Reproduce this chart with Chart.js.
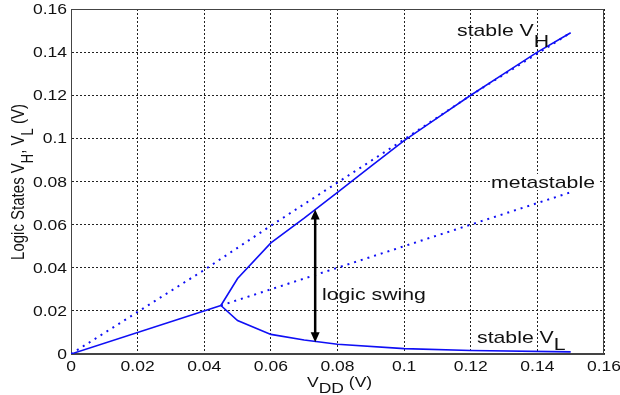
<!DOCTYPE html>
<html>
<head>
<meta charset="utf-8">
<script src="https://cdn.jsdelivr.net/npm/chart.js@4.4.1/dist/chart.umd.min.js"></script>
<style>
  html, body { margin: 0; padding: 0; background: #fff; }
  #wrap { width: 620px; height: 395px; }
</style>
</head>
<body>
<div id="wrap"><canvas id="logic-states-chart"></canvas></div>
<script>
// Chart data
// ------------------------------
var idealVdd = [0, 0.02, 0.04, 0.06, 0.08, 0.1, 0.12, 0.15];
var idealV = [0, 0.0195, 0.039, 0.0595, 0.0795, 0.0995, 0.12, 0.149];

var singleVdd = [0, 0.045];
var singleV = [0, 0.0225];

var highVdd = [0.045, 0.05, 0.06, 0.07, 0.0733, 0.08, 0.09, 0.1, 0.11, 0.12, 0.13, 0.14, 0.15];
var stableVH = [0.0225, 0.035, 0.0515, 0.063, 0.067, 0.075, 0.087, 0.099, 0.1095, 0.12, 0.13, 0.14, 0.149];

var lowVdd = [0.045, 0.05, 0.06, 0.07, 0.08, 0.1, 0.12, 0.15];
var stableVL = [0.0225, 0.0155, 0.0091, 0.0065, 0.0045, 0.0025, 0.0016, 0.001];

var metaVdd = [0.045, 0.15];
var metastable = [0.0225, 0.075];

var swingVdd = 0.0733;
var swingLow = 0.0055;
var xTicks = [0, 0.02, 0.04, 0.06, 0.08, 0.1, 0.12, 0.14, 0.16];
var yTicks = [0, 0.02, 0.04, 0.06, 0.08, 0.1, 0.12, 0.14, 0.16];

var BLUE = "#0f0ff5";
var FONT = "'Liberation Sans', Arial, sans-serif";
var SX = 1.25; // the original figure's text is a bit wide

function toPoints(xs, ys) {
    return xs.map(function (x, i) { return { x: x, y: ys[i] }; });
}

function lineSet(xs, ys, dotted) {
    return {
        data: toPoints(xs, ys),
        borderColor: BLUE,
        borderWidth: dotted ? 2 : 1.6,
        borderDash: dotted ? [2, 5] : [],
        pointRadius: 0,
        fill: false,
        tension: 0,
    };
}

// wide text: list of [text, size, drop], align left/right/center at x
function wideText(ctx, parts, x, y, align) {
    var total = 0;
    parts.forEach(function (p) {
        ctx.font = p[1] + "px " + FONT;
        total += ctx.measureText(p[0]).width * SX;
    });
    var sx = align === "right" ? x - total : align === "center" ? x - total / 2 : x;
    ctx.save();
    ctx.textAlign = "left";
    ctx.translate(sx, y);
    ctx.scale(SX, 1);
    var px = 0;
    parts.forEach(function (p) {
        ctx.font = p[1] + "px " + FONT;
        ctx.fillText(p[0], px, p[2] || 0);
        px += ctx.measureText(p[0]).width;
    });
    ctx.restore();
    return total;
}

function arrowHead(ctx, x, y, dir) {
    ctx.beginPath();
    ctx.moveTo(x, y);
    ctx.lineTo(x - 4.5, y - dir * 10);
    ctx.lineTo(x + 4.5, y - dir * 10);
    ctx.closePath();
    ctx.fill();
}

var annotations = {
    id: "annotations",
    beforeDatasetsDraw: function (chart) {
        var ctx = chart.ctx, a = chart.chartArea;
        ctx.save();
        ctx.strokeStyle = "#444";
        ctx.lineWidth = 1;
        ctx.strokeRect(a.left + 0.5, a.top + 0.5, a.right - a.left - 1, a.bottom - a.top - 1);
        ctx.restore();
    },
    afterDatasetsDraw: function (chart) {
        var ctx = chart.ctx;
        var xs = chart.scales.x, ys = chart.scales.y;
        ctx.save();
        ctx.fillStyle = "#111";
        ctx.textBaseline = "alphabetic";

        // tick labels
        yTicks.forEach(function (v) {
            wideText(ctx, [[String(v), 14]], 67, ys.getPixelForValue(v) + 5, "right");
        });
        xTicks.forEach(function (v) {
            wideText(ctx, [[String(v), 14]], xs.getPixelForValue(v), 371, "center");
        });

        // logic swing arrow
        var ax = xs.getPixelForValue(swingVdd);
        var yTop = ys.getPixelForValue(stableVH[4]);
        var yBot = ys.getPixelForValue(swingLow);
        ctx.strokeStyle = "#000";
        ctx.fillStyle = "#000";
        ctx.lineWidth = 2.5;
        ctx.beginPath();
        ctx.moveTo(ax, yTop + 6);
        ctx.lineTo(ax, yBot - 6);
        ctx.stroke();
        arrowHead(ctx, ax, yTop, -1);
        arrowHead(ctx, ax, yBot, 1);

        // curve labels
        ctx.fillStyle = "#111";
        wideText(ctx, [["stable V", 17], ["H", 17, 11]], 457, 36, "left");
        ctx.fillStyle = "#fff";
        ctx.fillRect(490, 174, 110, 16);
        ctx.fillStyle = "#111";
        wideText(ctx, [["metastable", 17]], 491, 188, "left");
        wideText(ctx, [["logic swing", 17]], 322, 300, "left");
        wideText(ctx, [["stable V", 17], ["L", 17, 7]], 477, 343, "left");

        // x title
        wideText(ctx, [["V", 14], ["DD", 14, 6], [" (V)", 14]], 307, 387, "left");

        // y title, rotated (glyphs are wide across the text line)
        var parts = [["Logic States V", 15, 0], ["H", 13, 7], [", V", 15, 0], ["L", 13, 7], [" (V)", 15, 0]];
        var total = 0;
        parts.forEach(function (p) {
            ctx.font = p[1] + "px " + FONT;
            total += ctx.measureText(p[0]).width;
        });
        ctx.translate(24, 182 + total / 2);
        ctx.rotate(-Math.PI / 2);
        ctx.scale(1, SX);
        ctx.textAlign = "left";
        var px = 0;
        parts.forEach(function (p) {
            ctx.font = p[1] + "px " + FONT;
            ctx.fillText(p[0], px, p[2]);
            px += ctx.measureText(p[0]).width;
        });
        ctx.restore();
    },
};

var config = {
    type: "line",
    data: {
        datasets: [
            lineSet(idealVdd, idealV, true),
            lineSet(metaVdd, metastable, true),
            lineSet(singleVdd, singleV, false),
            lineSet(highVdd, stableVH, false),
            lineSet(lowVdd, stableVL, false),
        ],
    },
    options: {
        responsive: true,
        maintainAspectRatio: false,
        animation: false,
        layout: { padding: { left: 0, right: 16, top: 9, bottom: 0 } },
        plugins: { legend: { display: false }, tooltip: { enabled: false } },
        scales: {
            x: {
                type: "linear",
                min: 0,
                max: 0.16,
                afterBuildTicks: function (s) { s.ticks = xTicks.map(function (v) { return { value: v }; }); },
                afterFit: function (s) { s.height = 41; },
                ticks: { display: false },
                grid: { color: "#222", lineWidth: 1, drawTicks: false },
                border: { display: true, color: "#444", dash: [2, 2] },
            },
            y: {
                type: "linear",
                min: 0,
                max: 0.16,
                afterBuildTicks: function (s) { s.ticks = yTicks.map(function (v) { return { value: v }; }); },
                afterFit: function (s) { s.width = 71; },
                ticks: { display: false },
                grid: { color: "#222", lineWidth: 1, drawTicks: false },
                border: { display: true, color: "#444", dash: [2, 2] },
            },
        },
    },
    plugins: [annotations],
};

// Create the chart
var logicChart = new Chart(document.getElementById("logic-states-chart"), config);
</script>
</body>
</html>
